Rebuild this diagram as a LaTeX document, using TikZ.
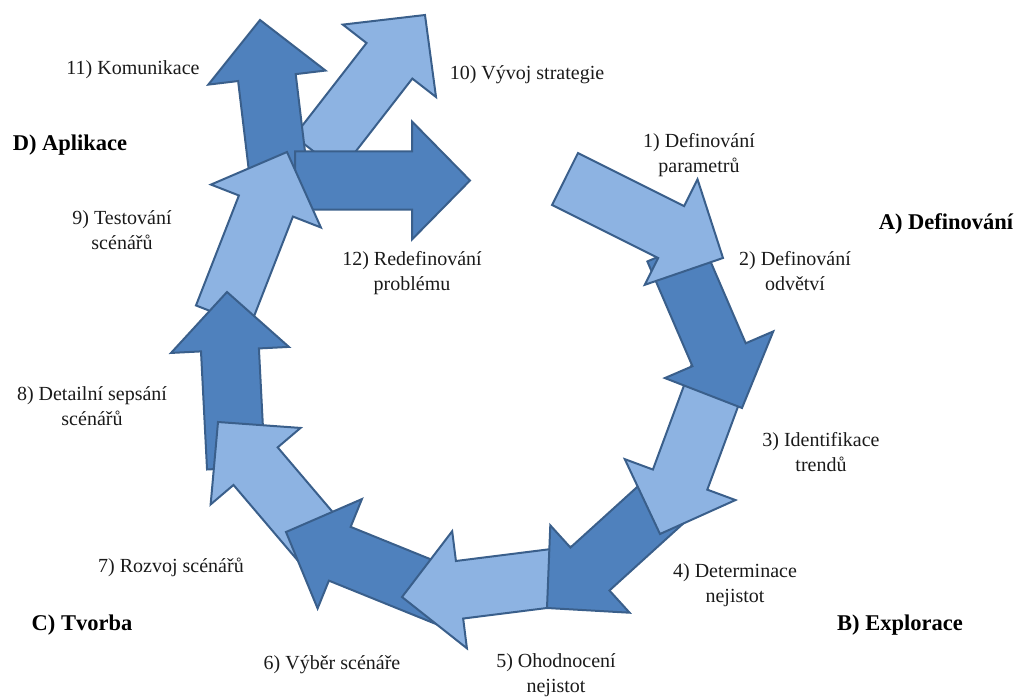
\documentclass[tikz,border=0pt]{standalone}
\usepackage{fontspec}
\setmainfont{Liberation Serif}
\newfontfamily\labelfont{Liberation Serif}
\usetikzlibrary{calc}

\definecolor{arrowlight}{HTML}{8DB3E2}
\definecolor{arrowdark}{HTML}{4F81BD}
\definecolor{arrowedge}{HTML}{3A5F8B}
\definecolor{labeltext}{HTML}{1A1A1A}

% Block arrow from a tail point to a tip point:
% shaft half-width 29, head half-width 59, head length 58.
\newcommand\blockarrow[3]{%
  \coordinate (ba-n) at ($(#3)!58pt!(#2)$);
  \draw[blockarrow,#1]
    ($(#2)!29pt!90:(#3)$) --
    ($(ba-n)!29pt!-90:(#2)$) --
    ($(ba-n)!59pt!-90:(#2)$) --
    (#3) --
    ($(ba-n)!59pt!90:(#2)$) --
    ($(ba-n)!29pt!90:(#2)$) --
    ($(#2)!29pt!-90:(#3)$) -- cycle;
}

\tikzset{
  blockarrow/.style={draw=arrowedge, line width=2pt, line join=miter},
  lightarrow/.style={fill=arrowlight},
  darkarrow/.style={fill=arrowdark},
  steplabel/.style={text=labeltext, align=center, inner sep=0pt,
    font=\labelfont\fontsize{20}{24.5}\selectfont},
  phaselabel/.style={text=black, inner sep=0pt,
    font=\labelfont\fontsize{22.5}{26}\selectfont\bfseries},
}

\begin{document}
\begin{tikzpicture}[x=1pt, y=-1pt]
\useasboundingbox (0,0) rectangle (1020,698);

% tail and tip of every step arrow
\coordinate (t1) at (565,179);    \coordinate (h1) at (723,258);
\coordinate (t2) at (674,250);    \coordinate (h2) at (742,408);
\coordinate (t3) at (721,369);    \coordinate (h3) at (660,534);
\coordinate (t4) at (677,490);    \coordinate (h4) at (547,608);
\coordinate (t5) at (577,575);    \coordinate (h5) at (402,597);
\coordinate (t6) at (449,598);    \coordinate (h6) at (286,532);
\coordinate (t7) at (332,556);    \coordinate (h7) at (218,422);
\coordinate (t8) at (236,468);    \coordinate (h8) at (227,292);
\coordinate (t9) at (223,316);    \coordinate (h9) at (287,152);
\coordinate (t10) at (317,154);   \coordinate (h10) at (425,15);
\coordinate (t11) at (281,195);   \coordinate (h11) at (260,20);
\coordinate (t12) at (295,180.5); \coordinate (h12) at (470,180.5);

% each head lies over the tail of the next arrow
\blockarrow{lightarrow}{t10}{h10}
\blockarrow{darkarrow}{t11}{h11}
\blockarrow{darkarrow}{t12}{h12}
\blockarrow{lightarrow}{t9}{h9}
\blockarrow{darkarrow}{t8}{h8}
\blockarrow{lightarrow}{t7}{h7}
\blockarrow{darkarrow}{t6}{h6}
\blockarrow{lightarrow}{t5}{h5}
\blockarrow{darkarrow}{t4}{h4}
\blockarrow{lightarrow}{t3}{h3}
\blockarrow{darkarrow}{t2}{h2}
\blockarrow{lightarrow}{t1}{h1}

% step labels
\node[steplabel] (s1) at (699,155) {1) Definování\\parametrů};
\node[steplabel] (s2) at (795,271) {2) Definování\\odvětví};
\node[steplabel] (s3) at (821,452) {3) Identifikace\\trendů};
\node[steplabel] (s4) at (735,585) {4) Determinace\\nejistot};
\node[steplabel] (s5) at (556,675) {5) Ohodnocení\\nejistot};
\node[steplabel] (s6) at (332,665) {6) Výběr scénáře};
\node[steplabel] (s7) at (171,567) {7) Rozvoj scénářů};
\node[steplabel] (s8) at (92,406) {8) Detailní sepsání\\scénářů};
\node[steplabel] (s9) at (122,230) {9) Testování\\scénářů};
\node[steplabel] (s10) at (527,75) {10) Vývoj strategie};
\node[steplabel] (s11) at (133,70) {11) Komunikace};
\node[steplabel] (s12) at (412,273) {12) Redefinování\\problému};

% phase labels
\node[phaselabel] (pa) at (946,224) {A) Definování};
\node[phaselabel] (pb) at (900,625) {B) Explorace};
\node[phaselabel] (pc) at (82,625) {C) Tvorba};
\node[phaselabel] (pd) at (70,145) {D) Aplikace};
\end{tikzpicture}
\end{document}
